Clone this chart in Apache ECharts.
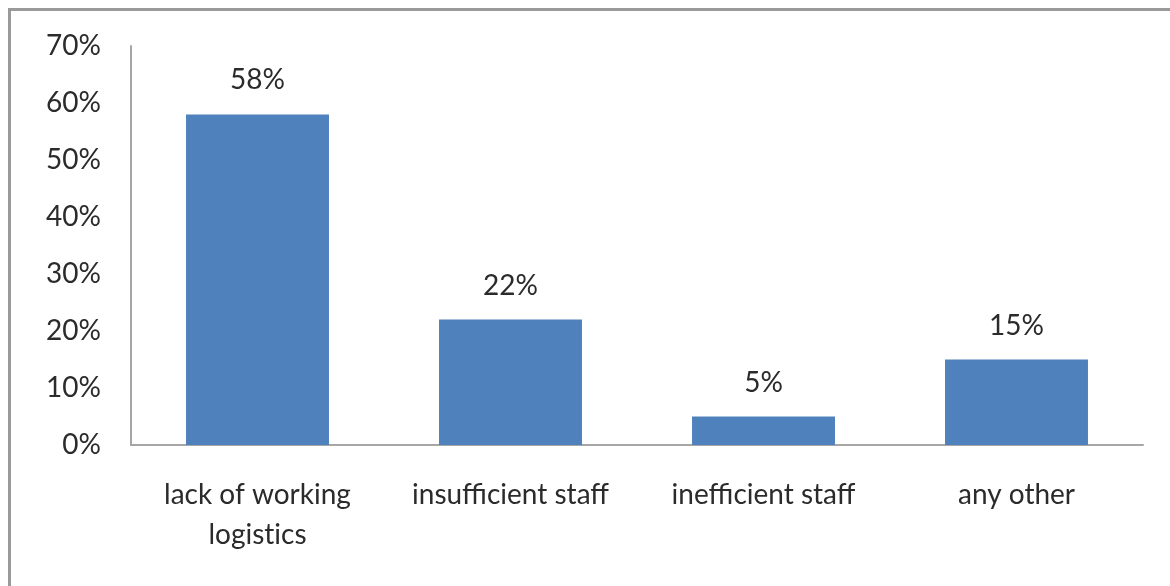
<!DOCTYPE html>
<html>
<head>
<meta charset="utf-8">
<script src="https://cdn.jsdelivr.net/npm/echarts@6/dist/echarts.min.js"></script>
<style>
  html, body { margin: 0; padding: 0; background: #fff; }
  #frame { position: absolute; left: 8px; top: 8px; width: 1180px; height: 600px;
           border: 3px solid #9a9a9a; box-sizing: border-box; }
  #chart { position: absolute; left: 0; top: 0; width: 1170px; height: 586px; }
</style>
</head>
<body>
<div id="frame"></div>
<div id="chart"></div>
<script>
// Reasons reported, share of responses
// (\u200C keeps the "ti" pair from being drawn as a ligature)
const categories = ['lack of working\nlogist\u200Cics', 'insufficient staff', 'inefficient staff', 'any other'];
const shares = [58, 22, 5, 15];
const yTicks = [0, 10, 20, 30, 40, 50, 60, 70];

const chart = echarts.init(document.getElementById('chart'));
const textFont = 'Lato, "Open Sans", sans-serif';
const textColor = '#2b2b2b';
chart.setOption({
  animation: false,
  grid: { left: 131, right: 27, top: 46, bottom: 141, containLabel: false },
  xAxis: {
    type: 'category',
    data: categories,
    axisLine: { lineStyle: { color: '#a6a6a6', width: 2 } },
    axisTick: { show: false },
    axisLabel: { interval: 0, color: textColor, fontSize: 28, fontFamily: textFont,
                 margin: 30, lineHeight: 40 }
  },
  yAxis: {
    type: 'value',
    min: yTicks[0],
    max: yTicks[yTicks.length - 1],
    interval: 10,
    axisLine: { show: true, lineStyle: { color: '#a6a6a6', width: 2 } },
    axisTick: { show: false },
    splitLine: { show: false },
    axisLabel: { color: textColor, fontSize: 28, fontFamily: textFont, margin: 30,
                 formatter: v => v + '%' }
  },
  series: [{
    type: 'bar',
    data: shares,
    barWidth: '56.5%',
    itemStyle: { color: '#4f81bd' },
    label: { show: true, position: 'top', distance: 20, color: textColor, fontSize: 28,
             fontFamily: textFont, formatter: p => p.value + '%' }
  }]
});
</script>
</body>
</html>
